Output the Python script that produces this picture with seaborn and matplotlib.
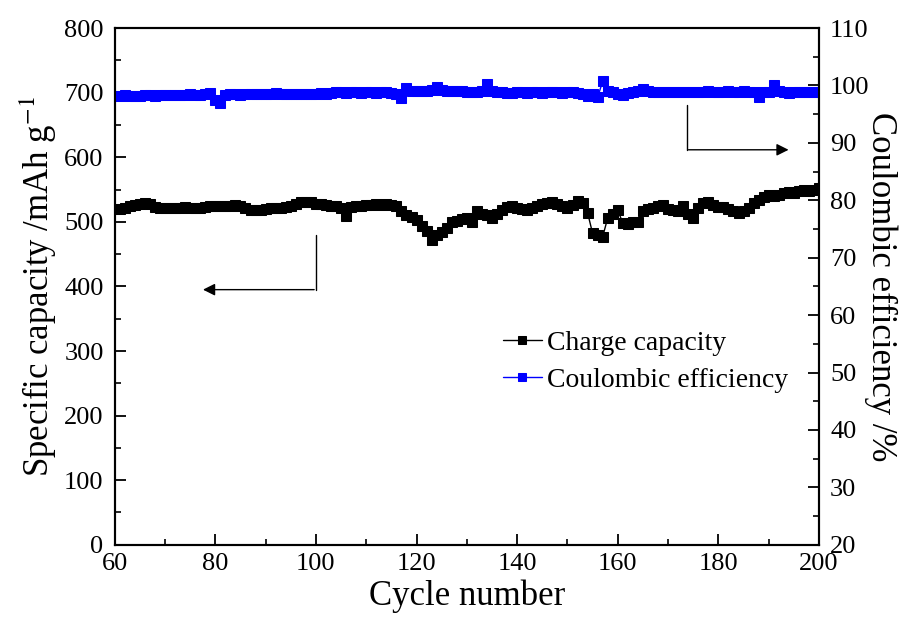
import numpy as np
import seaborn as sns
import matplotlib.pyplot as plt
from matplotlib.ticker import MultipleLocator

cycles = list(range(61, 201))

charge_capacity = [
    520, 522, 524, 526, 528, 529, 527, 523, 521, 522,
    522, 521, 522, 523, 522, 521, 522, 523, 524, 525,
    525, 524, 525, 526, 524, 521, 519, 518, 519, 520,
    521, 521, 522, 523, 524, 527, 530, 531, 530, 528,
    527, 526, 525, 524, 522, 509, 523, 524, 525, 526,
    526, 527, 526, 527, 526, 525, 516, 511, 507, 503,
    494, 486, 472, 480, 485, 490, 500, 502, 504, 506,
    500, 516, 512, 510, 506, 512, 518, 523, 525, 522,
    520, 518, 521, 524, 527, 529, 530, 528, 525, 521,
    526, 533, 529, 514, 482, 479, 477, 506, 512, 518,
    498, 497, 499, 500, 516, 520, 522, 524, 526, 520,
    518, 516, 524, 512, 506, 522, 529, 531, 526, 523,
    523, 520, 517, 514, 516, 522, 529, 534, 538, 542,
    540, 541, 544, 546, 545, 548, 550, 547, 549, 552,
]

coulombic_eff = [
    98.2, 98.3, 98.2, 98.1, 98.2, 98.3, 98.3, 98.2, 98.3, 98.4,
    98.4, 98.3, 98.4, 98.4, 98.5, 98.4, 98.4, 98.5, 98.7, 97.5,
    97.0, 98.4, 98.5, 98.5, 98.4, 98.5, 98.5, 98.6, 98.6, 98.6,
    98.6, 98.7, 98.6, 98.6, 98.5, 98.5, 98.6, 98.5, 98.5, 98.6,
    98.7, 98.6, 98.7, 98.8, 98.8, 98.7, 98.9, 98.8, 98.7, 98.8,
    98.8, 98.7, 98.8, 98.8, 98.7, 98.6, 97.8, 99.5, 99.0, 99.0,
    99.1, 99.0, 99.2, 99.8, 99.2, 99.0, 99.1, 99.0, 99.0, 98.9,
    98.9, 98.9, 99.0, 100.3, 99.0, 98.8, 98.8, 98.7, 98.7, 98.8,
    98.8, 98.7, 98.8, 98.8, 98.7, 98.8, 98.8, 98.8, 98.7, 98.8,
    98.8, 98.7, 98.6, 98.2, 98.5, 98.0, 100.7, 99.0, 98.8, 98.6,
    98.3, 98.7, 98.9, 99.0, 99.4, 99.0, 98.9, 98.8, 98.8, 98.9,
    98.9, 98.8, 98.9, 98.9, 98.9, 98.9, 98.9, 99.1, 98.9, 98.8,
    98.9, 99.0, 98.9, 98.8, 99.0, 98.9, 98.9, 98.0, 98.8, 98.9,
    100.0, 99.0, 98.8, 98.7, 98.8, 98.8, 98.9, 98.8, 98.8, 98.9,
]

sns.set_theme(style="ticks")
plt.rcParams['font.family'] = ['Liberation Serif', 'DejaVu Serif']
plt.rcParams['mathtext.fontset'] = 'stix'
for key in ('text.color', 'axes.labelcolor', 'xtick.color', 'ytick.color', 'axes.edgecolor'):
    plt.rcParams[key] = 'black'

fig = plt.figure(figsize=(9.03, 6.24), dpi=100)
ax = fig.add_axes([0.127, 0.127, 0.780, 0.828])
ax2 = ax.twinx()

sns.lineplot(x=cycles, y=charge_capacity, ax=ax, color='black', marker='s',
             markersize=7.5, markeredgecolor='black', linewidth=1,
             label='Charge capacity', legend=False)
sns.lineplot(x=cycles, y=coulombic_eff, ax=ax2, color='blue', marker='s',
             markersize=7.5, markeredgecolor='blue', linewidth=1,
             label='Coulombic efficiency', legend=False)

ax.set_xlim(60, 200)
ax.set_ylim(0, 800)
ax2.set_ylim(20, 110)

ax.xaxis.set_major_locator(MultipleLocator(20))
ax.xaxis.set_minor_locator(MultipleLocator(10))
ax.yaxis.set_major_locator(MultipleLocator(100))
ax.yaxis.set_minor_locator(MultipleLocator(50))
ax2.yaxis.set_major_locator(MultipleLocator(10))
ax2.yaxis.set_minor_locator(MultipleLocator(5))

for a in (ax, ax2):
    a.tick_params(which='major', direction='in', length=8, width=1.3,
                  labelsize=19, pad=8)
    a.tick_params(which='minor', direction='in', length=4.5, width=1.2)
    for s in a.spines.values():
        s.set_linewidth(1.5)
        s.set_visible(True)
ax.tick_params(axis='y', which='both', right=False)
ax.tick_params(axis='x', which='both', top=False)
ax.tick_params(axis='x', which='major', pad=6)

ax.set_xlabel('Cycle number', fontsize=25, labelpad=3)
ax.set_ylabel('Specific capacity /mAh g$^{-1}$', fontsize=25, labelpad=4)
ax2.set_ylabel('Coulombic efficiency /%', fontsize=25, rotation=270, labelpad=20)

# arrows pointing to the matching axes
ax.plot([100, 100], [480, 395], color='black', lw=1)
ax.annotate('', xy=(77, 395), xytext=(100.2, 395),
            arrowprops=dict(arrowstyle='-|>', color='black', lw=1, mutation_scale=18))
ax2.plot([173.7, 173.7], [96.6, 88.8], color='black', lw=1)
ax2.annotate('', xy=(194.5, 88.8), xytext=(173.5, 88.8),
             arrowprops=dict(arrowstyle='-|>', color='black', lw=1, mutation_scale=18))

h1, l1 = ax.get_legend_handles_labels()
h2, l2 = ax2.get_legend_handles_labels()
leg = ax2.legend(h1 + h2, l1 + l2, loc='upper left', bbox_to_anchor=(0.535, 0.437),
                 frameon=False, fontsize=20, handlelength=1.4, handletextpad=0.2,
                 labelspacing=0.42, borderaxespad=0, markerscale=0.75)

fig.savefig('out.png', dpi=100)
